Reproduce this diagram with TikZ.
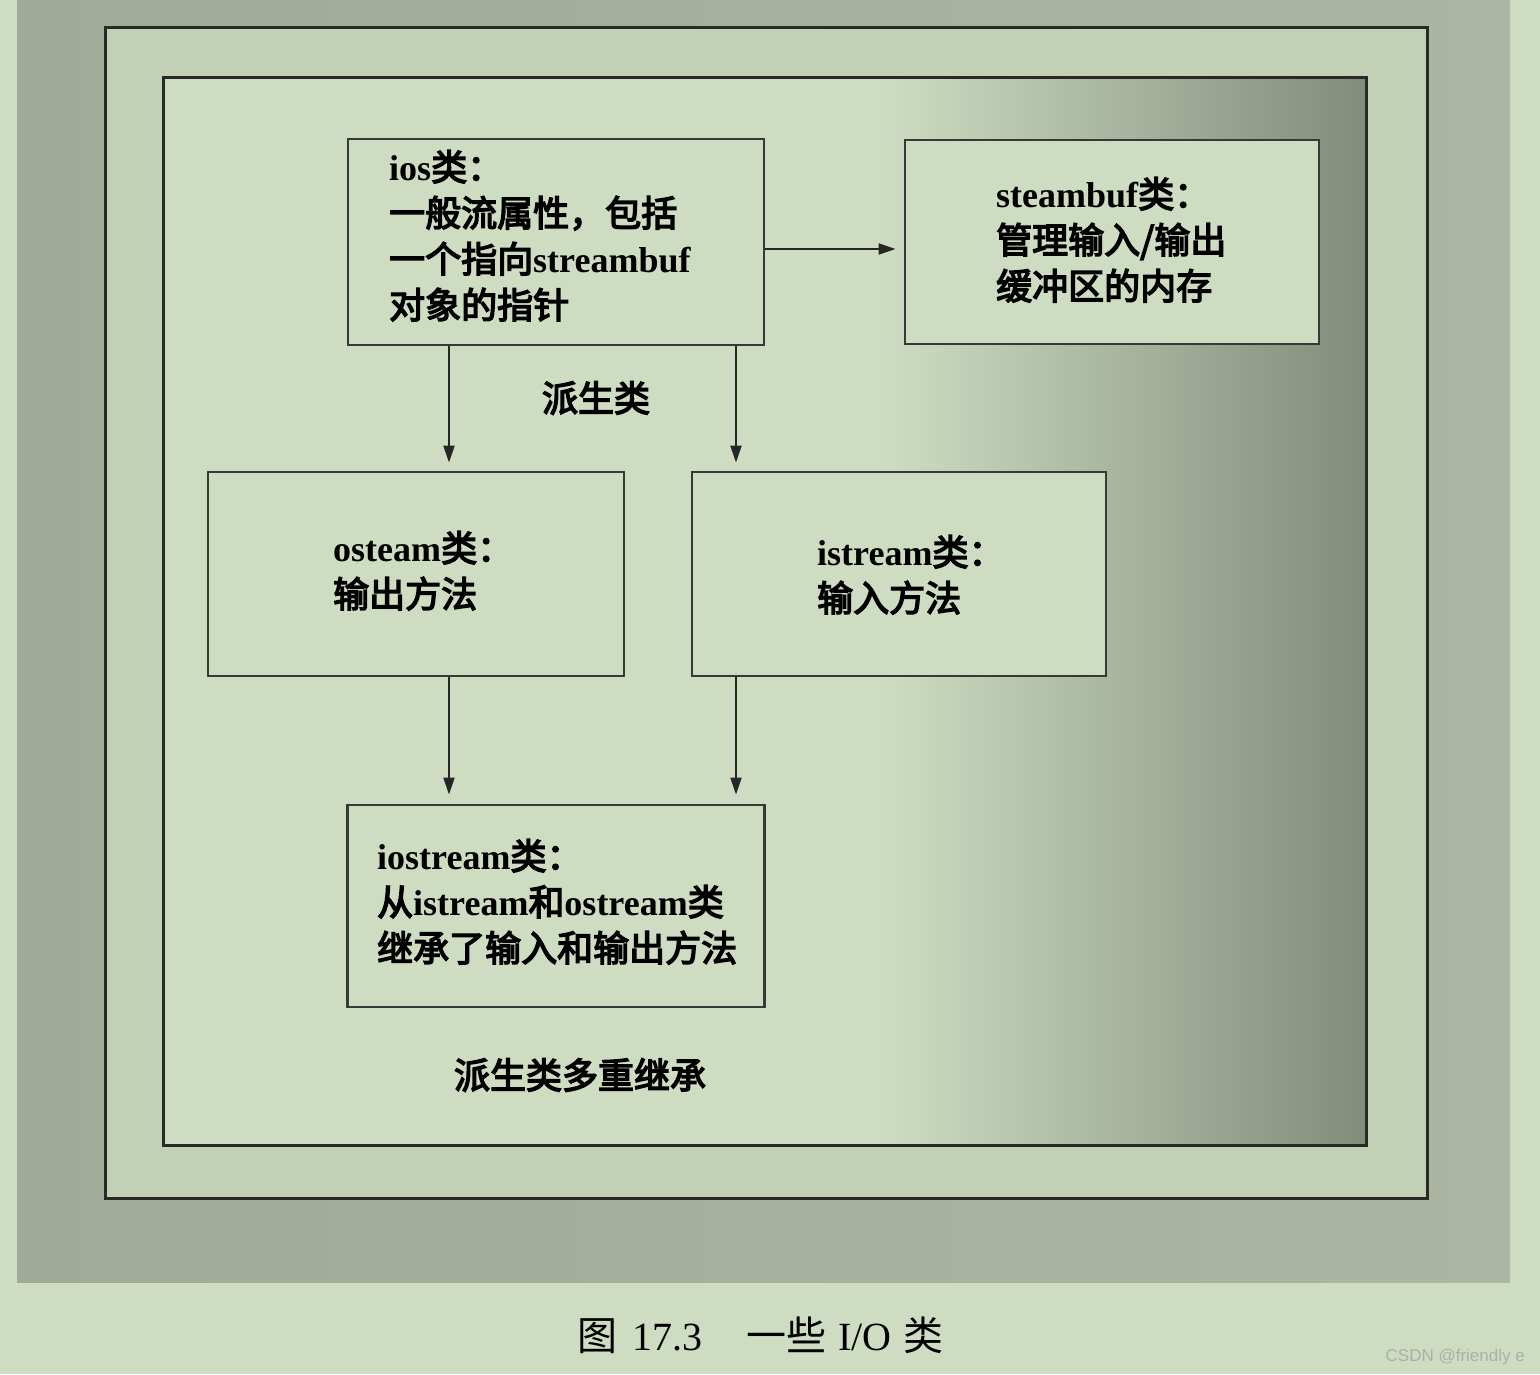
\documentclass[tikz,border=0pt]{standalone}
\usepackage{fontspec}
\setmainfont{Liberation Serif}
\newfontfamily\cjk{Noto Sans CJK SC}[FakeBold=4]
\newfontfamily\cjkcap{Noto Sans CJK SC}
\newfontfamily\wmfont{Liberation Sans}
\usetikzlibrary{arrows.meta}
\newcommand\zh[1]{{\cjk\mdseries #1}}
\newcommand\zc[1]{{\cjkcap\mdseries #1}}
\definecolor{bgc}{RGB}{206,221,194}
\definecolor{bandL}{RGB}{160,170,150}
\definecolor{bandR}{RGB}{172,182,162}
\definecolor{ringc}{RGB}{194,208,182}
\definecolor{innerdark}{RGB}{130,140,122}
\definecolor{frame}{RGB}{40,42,40}
\definecolor{boxline}{RGB}{55,57,55}
\definecolor{wmc}{RGB}{170,176,168}
\begin{document}
\begin{tikzpicture}[x=1pt,y=-1pt,
  boxst/.style={draw=boxline, line width=2.8pt, fill=bgc, rectangle, inner sep=0pt},
  txt/.style={font=\bfseries\fontsize{36pt}{46pt}\selectfont, align=left, inner sep=0pt, anchor=north west},
  lbl/.style={font=\bfseries\fontsize{36pt}{46pt}\selectfont, inner sep=0pt},
  arr/.style={line width=2pt, draw=black!85, -{Triangle[length=17pt,width=11pt]}}]
\useasboundingbox (0,0) rectangle (1540,1374);
\fill[bgc] (0,0) rectangle (1540,1374);
\shade[left color=bandL, right color=bandR] (17,0) rectangle (1510,1282);
\filldraw[fill=ringc, draw=frame, line width=3pt] (105,27) rectangle (1427,1198);
\fill[bgc] (163,77) rectangle (1366,1145);
\shade[left color=bgc, right color=innerdark] (880,77) rectangle (1366,1145);
\draw[frame, line width=3pt] (163,77) rectangle (1366,1145);

% boxes
\node[boxst, minimum width=416pt, minimum height=206pt] (ios) at (556,242) {};
\node[boxst, minimum width=414pt, minimum height=204pt] (buf) at (1112,242) {};
\node[boxst, minimum width=416pt, minimum height=204pt] (ost) at (416,574) {};
\node[boxst, minimum width=414pt, minimum height=204pt] (ist) at (899,574) {};
\node[boxst, minimum width=417pt, minimum height=202pt] (io2) at (556,906) {};

% box texts
\node[txt] (iost) at (389,150) {ios\zh{类：}\\\zh{一般流属性，包括}\\\zh{一个指向}streambuf\\\zh{对象的指针}};
\node[txt] (buft) at (996,177) {steambuf\zh{类：}\\\zh{管理输入/输出}\\\zh{缓冲区的内存}};
\node[txt] (ostt) at (333,531) {osteam\zh{类：}\\\zh{输出方法}};
\node[txt] (istt) at (817,535) {istream\zh{类：}\\\zh{输入方法}};
\node[txt] (io2t) at (377,839) {iostream\zh{类：}\\\zh{从}istream\zh{和}ostream\zh{类}\\\zh{继承了输入和输出方法}};

% arrows
\draw[arr, shorten >=8pt] ([yshift=-7pt]ios.east) -- ([yshift=-7pt]buf.west);
\draw[arr, shorten >=8pt] ([xshift=-107pt]ios.south) -- ([xshift=33pt]ost.north);
\draw[arr, shorten >=8pt] ([xshift=180pt]ios.south) -- ([xshift=-163pt]ist.north);
\draw[arr, shorten >=9pt] ([xshift=33pt]ost.south) -- ([xshift=-107pt]io2.north);
\draw[arr, shorten >=9pt] ([xshift=-163pt]ist.south) -- ([xshift=180pt]io2.north);

% labels
\node[lbl] (l1) at (596,398) {\zh{派生类}};
\node[lbl] (l2) at (580,1075) {\zh{派生类多重继承}};

% caption
\node[font=\fontsize{40pt}{44pt}\selectfont, inner sep=0pt, anchor=west] (cap) at (577,1335)
  {\zc{图}\hspace{15pt}17.3\hspace{44pt}\zc{一些}\hspace{12pt}I/O\hspace{12pt}\zc{类}};

% watermark
\node[font=\wmfont\fontsize{17pt}{20pt}\selectfont, text=wmc, inner sep=0pt, anchor=east] (wm) at (1525,1357) {CSDN @friendly e};
\end{tikzpicture}
\end{document}
